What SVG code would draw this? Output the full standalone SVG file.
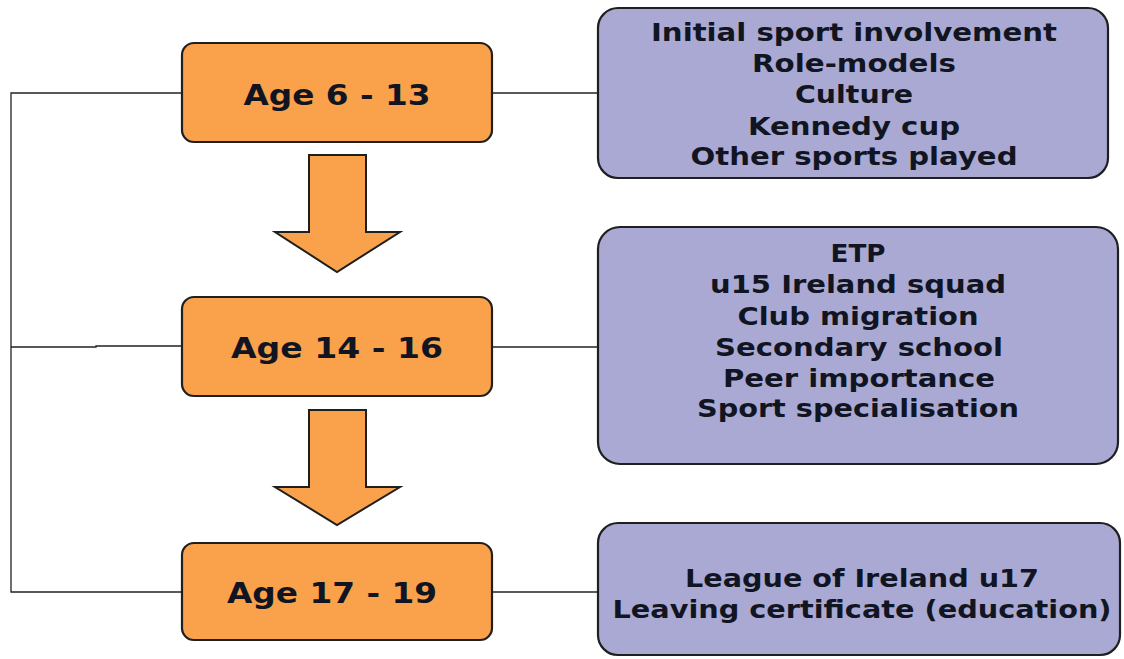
<svg xmlns="http://www.w3.org/2000/svg" width="1124" height="659" viewBox="0 0 1124 659">
  <style>
    .stage { fill: #F9A24B; stroke: #1f1f1f; stroke-width: 2.2; }
    .info { fill: #AAA9D4; stroke: #1f1f1f; stroke-width: 2.2; }
    .down { fill: #F9A24B; stroke: #1f1f1f; stroke-width: 2; stroke-linejoin: miter; }
    .wire { fill: none; stroke: #222; stroke-width: 1.3; }
    .age { font-family: "DejaVu Sans", Verdana, sans-serif; font-weight: bold; font-size: 29px; fill: #111522; text-anchor: middle; }
    .item { font-family: "DejaVu Sans", Verdana, sans-serif; font-weight: bold; font-size: 24px; fill: #111522; text-anchor: middle; }
  </style>
  <rect width="1124" height="659" fill="#ffffff"/>

  <!-- connectors -->
  <g id="connectors">
    <path class="wire" d="M182 93 H11 V592 H182"/>
    <path class="wire" d="M11 347 H96 V346 H182"/>
    <path class="wire" d="M492 93 H598"/>
    <path class="wire" d="M492 347 H598"/>
    <path class="wire" d="M492 592 H598"/>
  </g>

  <!-- flow arrows between stages -->
  <g id="arrow-1">
    <path class="down" d="M309 155 H366 V232 H400 L337 272 L275 232 H309 Z"/>
  </g>
  <g id="arrow-2">
    <path class="down" d="M309 410 H366 V487 H400 L337 525 L275 487 H309 Z"/>
  </g>

  <!-- age stages -->
  <g id="stage-6-13">
    <rect class="stage" x="182" y="43" width="310" height="99" rx="12"/>
    <text class="age" x="337" y="105" textLength="187" lengthAdjust="spacingAndGlyphs">Age 6 - 13</text>
  </g>
  <g id="stage-14-16">
    <rect class="stage" x="182" y="297" width="310" height="99" rx="12"/>
    <text class="age" x="337" y="358" textLength="212" lengthAdjust="spacingAndGlyphs">Age 14 - 16</text>
  </g>
  <g id="stage-17-19">
    <rect class="stage" x="182" y="543" width="310" height="97" rx="12"/>
    <text class="age" x="332" y="603" textLength="210" lengthAdjust="spacingAndGlyphs">Age 17 - 19</text>
  </g>

  <!-- factors for each stage -->
  <g id="factors-6-13">
    <rect class="info" x="598" y="8" width="510" height="170" rx="20"/>
    <text class="item" x="854" y="41" textLength="406" lengthAdjust="spacingAndGlyphs">Initial sport involvement</text>
    <text class="item" x="854" y="72" textLength="204" lengthAdjust="spacingAndGlyphs">Role-models</text>
    <text class="item" x="854" y="103" textLength="118" lengthAdjust="spacingAndGlyphs">Culture</text>
    <text class="item" x="854" y="135" textLength="212" lengthAdjust="spacingAndGlyphs">Kennedy cup</text>
    <text class="item" x="854" y="165" textLength="327" lengthAdjust="spacingAndGlyphs">Other sports played</text>
  </g>
  <g id="factors-14-16">
    <rect class="info" x="598" y="227" width="520" height="237" rx="22"/>
    <text class="item" x="858" y="262" textLength="55" lengthAdjust="spacingAndGlyphs">ETP</text>
    <text class="item" x="858" y="293" textLength="296" lengthAdjust="spacingAndGlyphs">u15 Ireland squad</text>
    <text class="item" x="858" y="325" textLength="241" lengthAdjust="spacingAndGlyphs">Club migration</text>
    <text class="item" x="859" y="356" textLength="288" lengthAdjust="spacingAndGlyphs">Secondary school</text>
    <text class="item" x="859" y="387" textLength="272" lengthAdjust="spacingAndGlyphs">Peer importance</text>
    <text class="item" x="858" y="417" textLength="322" lengthAdjust="spacingAndGlyphs">Sport specialisation</text>
  </g>
  <g id="factors-17-19">
    <rect class="info" x="598" y="523" width="522" height="132" rx="20"/>
    <text class="item" x="862" y="587" textLength="354" lengthAdjust="spacingAndGlyphs">League of Ireland u17</text>
    <text class="item" x="862" y="618" textLength="499" lengthAdjust="spacingAndGlyphs">Leaving certificate (education)</text>
  </g>
</svg>
